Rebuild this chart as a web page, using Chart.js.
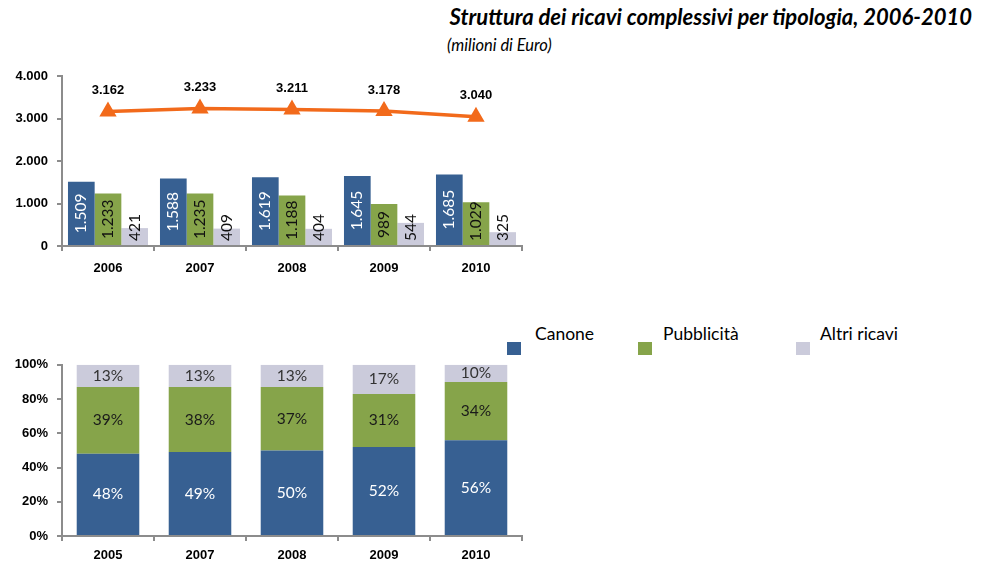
<!DOCTYPE html>
<html>
<head>
<meta charset="utf-8">
<script src="https://cdn.jsdelivr.net/npm/chart.js@4"></script>
<style>
  body { margin: 0; background: #fff; width: 985px; height: 563px; position: relative; overflow: hidden; font-family: Lato, sans-serif; }
  #title { position: absolute; right: 13px; top: 3px; font: italic bold 22px Lato, sans-serif; color: #000; white-space: nowrap; }
  #subtitle { position: absolute; left: 447px; top: 35px; font: italic 16.5px Lato, sans-serif; color: #000; }
  #top { position: absolute; left: 0; top: 56px; }
  #bottom { position: absolute; left: 0; top: 348px; }
  .leg { position: absolute; top: 323px; font: 17.5px Lato, sans-serif; color: #000; white-space: nowrap; }
  .sq { position: absolute; top: 342px; width: 14px; height: 13px; }
</style>
</head>
<body>
<div id="title">Struttura dei ricavi complessivi per tipologia, 2006-2010</div>
<div id="subtitle">(milioni di Euro)</div>

<canvas id="top" width="545" height="234"></canvas>

<span class="sq" style="left:507px;background:#376092"></span><span class="leg" style="left:535px">Canone</span>
<span class="sq" style="left:638px;background:#86a44a"></span><span class="leg" style="left:663px">Pubblicità</span>
<span class="sq" style="left:796px;background:#cbcbdb"></span><span class="leg" style="left:820px">Altri ricavi</span>

<canvas id="bottom" width="545" height="215"></canvas>

<script>
// dati (milioni di euro)
const anni = ['2006', '2007', '2008', '2009', '2010'];
const anniPerc = ['2005', '2007', '2008', '2009', '2010'];
const canone = [1509, 1588, 1619, 1645, 1685];
const pubblicita = [1233, 1235, 1188, 989, 1029];
const altri = [421, 409, 404, 544, 325];
const totale = [3162, 3233, 3211, 3178, 3040];

// composizione percentuale
const canonePerc = [48, 49, 50, 52, 56];
const pubblicitaPerc = [39, 38, 37, 31, 34];
const altriPerc = [13, 13, 13, 17, 10];

const BLU = '#376092';
const VERDE = '#86a44a';
const GRIGIO = '#cbcbdb';
const ARANCIO = '#f26a1b';

function punti(n) {
  return String(n).replace(/\B(?=(\d{3})+(?!\d))/g, '.');
}

const tickFont = { family: 'Liberation Sans', size: 13, weight: 'bold' };

function asse(extra) {
  return Object.assign({
    grid: { drawOnChartArea: false, drawTicks: true, tickLength: 5, color: '#8c8c8c', lineWidth: 2 },
    border: { display: true, color: '#8c8c8c', width: 2 },
    ticks: { color: '#000', font: tickFont }
  }, extra);
}

// etichette dentro le barre e sopra la linea
const etichette = {
  id: 'etichette',
  afterDatasetsDraw(chart, args, opts) {
    const ctx = chart.ctx;
    const bottomY = chart.chartArea.bottom;
    chart.data.datasets.forEach((ds, i) => {
      const meta = chart.getDatasetMeta(i);
      if (meta.hidden) return;
      meta.data.forEach((el, j) => {
        const v = ds.data[j];
        ctx.save();
        if (ds.type === 'line') {
          ctx.font = 'bold 13px "Liberation Sans"';
          ctx.fillStyle = '#000';
          ctx.textAlign = 'center';
          ctx.textBaseline = 'middle';
          ctx.fillText(punti(v), el.x, el.y - 21);
        } else if (opts.ruotate) {
          const txt = punti(v);
          ctx.font = '15.5px Lato';
          const w = ctx.measureText(txt).width;
          let cy = (el.y + el.base) / 2;
          if (cy + w / 2 > bottomY - 5) cy = bottomY - 5 - w / 2;
          ctx.translate(el.x, cy);
          ctx.rotate(-Math.PI / 2);
          ctx.fillStyle = ds.labelColor;
          ctx.textAlign = 'center';
          ctx.textBaseline = 'middle';
          ctx.fillText(txt, 0, 0);
        } else {
          ctx.font = '15.5px Lato';
          ctx.fillStyle = ds.labelColor;
          ctx.textAlign = 'center';
          ctx.textBaseline = 'middle';
          ctx.fillText(v + '%', el.x, (el.y + el.base) / 2);
        }
        ctx.restore();
      });
    });
  }
};

new Chart(document.getElementById('top'), {
  type: 'bar',
  data: {
    labels: anni,
    datasets: [
      {
        type: 'line', label: 'Totale', data: totale, order: 0,
        borderColor: ARANCIO, backgroundColor: ARANCIO, borderWidth: 3.5,
        pointStyle: 'triangle', pointRadius: 6.5, pointBackgroundColor: ARANCIO,
        pointBorderColor: ARANCIO, tension: 0
      },
      { label: 'Canone', data: canone, backgroundColor: BLU, labelColor: '#fff', order: 1 },
      { label: 'Pubblicità', data: pubblicita, backgroundColor: VERDE, labelColor: '#111', order: 1 },
      { label: 'Altri ricavi', data: altri, backgroundColor: GRIGIO, labelColor: '#111', order: 1 }
    ]
  },
  options: {
    responsive: false,
    animation: false,
    categoryPercentage: 0.87,
    barPercentage: 1,
    layout: { padding: { top: 20, right: 23, left: 0, bottom: 0 } },
    plugins: { legend: { display: false }, tooltip: { enabled: false }, etichette: { ruotate: true } },
    scales: {
      x: asse({
        grid: { drawOnChartArea: false, drawTicks: true, tickLength: 5, color: '#8c8c8c', lineWidth: 2, offset: true },
        ticks: { color: '#000', font: tickFont, padding: 10 },
        afterFit(s) { s.height = 44; }
      }),
      y: asse({
        min: 0, max: 4000,
        ticks: { color: '#000', font: tickFont, stepSize: 1000, padding: 9, callback: v => punti(v) },
        afterFit(s) { s.width = 62; }
      })
    }
  },
  plugins: [etichette]
});

new Chart(document.getElementById('bottom'), {
  type: 'bar',
  data: {
    labels: anniPerc,
    datasets: [
      { label: 'Canone', data: canonePerc, backgroundColor: BLU, labelColor: '#fff' },
      { label: 'Pubblicità', data: pubblicitaPerc, backgroundColor: VERDE, labelColor: '#1a1a1a' },
      { label: 'Altri ricavi', data: altriPerc, backgroundColor: GRIGIO, labelColor: '#333' }
    ]
  },
  options: {
    responsive: false,
    animation: false,
    categoryPercentage: 0.68,
    barPercentage: 1,
    layout: { padding: { top: 15, right: 23, left: 0, bottom: 0 } },
    plugins: { legend: { display: false }, tooltip: { enabled: false }, etichette: { ruotate: false } },
    scales: {
      x: asse({
        stacked: true,
        grid: { drawOnChartArea: false, drawTicks: true, tickLength: 5, color: '#8c8c8c', lineWidth: 2, offset: true },
        ticks: { color: '#000', font: tickFont, padding: 7 },
        afterFit(s) { s.height = 27; }
      }),
      y: asse({
        stacked: true, min: 0, max: 100,
        ticks: { color: '#000', font: tickFont, stepSize: 20, padding: 9, callback: v => v + '%' },
        afterFit(s) { s.width = 62; }
      })
    }
  },
  plugins: [etichette]
});
</script>
</body>
</html>
